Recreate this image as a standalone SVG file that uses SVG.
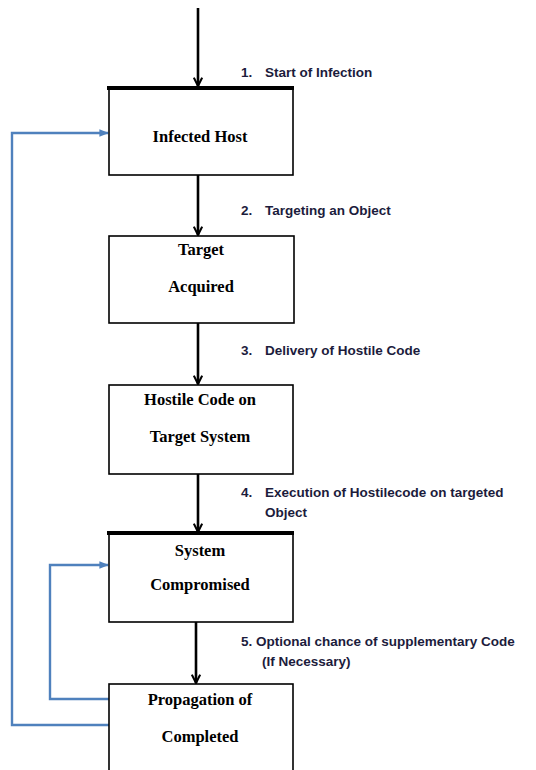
<svg xmlns="http://www.w3.org/2000/svg" width="536" height="770" viewBox="0 0 536 770">
<defs>
<style>
.box{fill:#fff;stroke:#000;stroke-width:1.6}
.thick{stroke:#000;stroke-width:4}
.ttl{font-family:"Liberation Serif",serif;font-weight:bold;font-size:16.5px;fill:#000;text-anchor:middle}
.lbl{font-family:"Liberation Sans",sans-serif;font-weight:bold;font-size:13.5px;fill:#1c1c3c}
.flow{stroke:#000;stroke-width:2.6;fill:none;marker-end:url(#ah)}
.loop{stroke:#4F81BD;stroke-width:2.4;fill:none;marker-end:url(#bh)}
</style>
<marker id="ah" viewBox="0 0 10 10" refX="9" refY="5" markerWidth="4" markerHeight="4" orient="auto" markerUnits="strokeWidth">
<path d="M1,1 L9,5 L1,9" fill="none" stroke="#000" stroke-width="2"/>
</marker>
<marker id="bh" viewBox="0 0 10 10" refX="9" refY="5" markerWidth="4" markerHeight="4" orient="auto" markerUnits="strokeWidth">
<path d="M0,1 L10,5 L0,9 Z" fill="#4F81BD"/>
</marker>
</defs>
<rect width="536" height="770" fill="#fff"/>
<g id="connectors">
<path class="flow" d="M198,8 V86"/>
<path class="flow" d="M198,175 V235"/>
<path class="flow" d="M198,323 V384"/>
<path class="flow" d="M198,474 V532"/>
<path class="flow" d="M196,622 V683"/>
<path class="loop" d="M109,725 H12 V133 H108"/>
<path class="loop" d="M109,699 H50 V565 H108"/>
</g>
<g id="labels">
<text class="lbl" x="241" y="77">1.</text>
<text class="lbl" x="265" y="77">Start of Infection</text>
<text class="lbl" x="241" y="215">2.</text>
<text class="lbl" x="265" y="215">Targeting an Object</text>
<text class="lbl" x="241" y="355">3.</text>
<text class="lbl" x="265" y="355">Delivery of Hostile Code</text>
<text class="lbl" x="241" y="497">4.</text>
<text class="lbl" x="265" y="497">Execution of Hostilecode on targeted</text>
<text class="lbl" x="265" y="517">Object</text>
<text class="lbl" x="241" y="646">5.</text>
<text class="lbl" x="256" y="646">Optional chance of supplementary Code</text>
<text class="lbl" x="262" y="666">(If Necessary)</text>
</g>
<g id="n1">
<rect class="box" x="109" y="88" width="184" height="87"/>
<line class="thick" x1="107" y1="88" x2="294" y2="88"/>
<text class="ttl" x="200" y="142">Infected Host</text>
</g>
<g id="n2">
<rect class="box" x="109" y="236" width="185" height="87"/>
<text class="ttl" x="201" y="255">Target</text>
<text class="ttl" x="201" y="292">Acquired</text>
</g>
<g id="n3">
<rect class="box" x="109" y="385" width="184" height="89"/>
<text class="ttl" x="200" y="405">Hostile Code on</text>
<text class="ttl" x="200" y="442">Target System</text>
</g>
<g id="n4">
<rect class="box" x="109" y="533" width="184" height="89"/>
<line class="thick" x1="107" y1="533" x2="294" y2="533"/>
<text class="ttl" x="200" y="556">System</text>
<text class="ttl" x="200" y="590">Compromised</text>
</g>
<g id="n5">
<rect class="box" x="109" y="684" width="184" height="100"/>
<text class="ttl" x="200" y="705">Propagation of</text>
<text class="ttl" x="200" y="742">Completed</text>
</g>
</svg>
